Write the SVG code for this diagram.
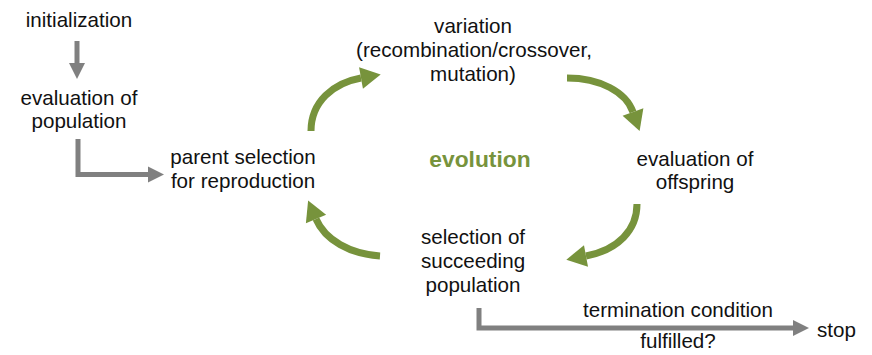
<svg xmlns="http://www.w3.org/2000/svg" width="872" height="355" viewBox="0 0 872 355">
<style>
text{font-family:"Liberation Sans",Arial,sans-serif;font-size:20.6px;fill:#111;text-anchor:middle}
.evo{font-weight:bold;font-size:22.8px;fill:#77933C}
.g{fill:none;stroke:#808080;stroke-width:5}
.c{fill:none;stroke:#77933C;stroke-width:7}
</style>
<defs>
<marker id="ga" markerUnits="userSpaceOnUse" markerWidth="16" markerHeight="16" refX="0" refY="8" orient="auto" overflow="visible">
<path d="M0,0 L16,8 L0,16 z" fill="#808080"/>
</marker>
<marker id="ca" markerUnits="userSpaceOnUse" markerWidth="20" markerHeight="22" refX="0" refY="11" orient="auto" overflow="visible">
<path d="M0,0 L20,11 L0,22 z" fill="#77933C"/>
</marker>
</defs>
<g id="connectors">
<path class="g" d="M77,41 V63" marker-end="url(#ga)"/>
<path class="g" d="M78,139 V174.5 H148" marker-end="url(#ga)"/>
<path class="g" d="M479,308 V328 H793" marker-end="url(#ga)"/>
<path class="c" d="M311,131 C311,102 333,83 361,78" marker-end="url(#ca)"/>
<path class="c" d="M567,78 C600,78 626,92 633,112" marker-end="url(#ca)"/>
<path class="c" d="M637,204 C637,230 618,250 586,256" marker-end="url(#ca)"/>
<path class="c" d="M380,256 C350,254 325,240 316,219" marker-end="url(#ca)"/>
</g>
<g id="initialization"><text x="79" y="27">initialization</text></g>
<g id="evaluation-population"><text x="79" y="105">evaluation of</text><text x="79" y="128">population</text></g>
<g id="parent-selection"><text x="243" y="164">parent selection</text><text x="243" y="188">for reproduction</text></g>
<g id="variation"><text x="473" y="33">variation</text><text x="474" y="57">(recombination/crossover,</text><text x="473" y="81">mutation)</text></g>
<g id="evaluation-offspring"><text x="695" y="166">evaluation of</text><text x="695" y="189">offspring</text></g>
<g id="selection-succeeding"><text x="473" y="244">selection of</text><text x="473" y="268">succeeding</text><text x="473" y="292">population</text></g>
<g id="evolution"><text class="evo" x="480" y="167">evolution</text></g>
<g id="termination"><text x="678" y="317">termination condition</text><text x="678" y="348">fulfilled?</text></g>
<g id="stop"><text x="817" y="337" style="text-anchor:start">stop</text></g>
</svg>
